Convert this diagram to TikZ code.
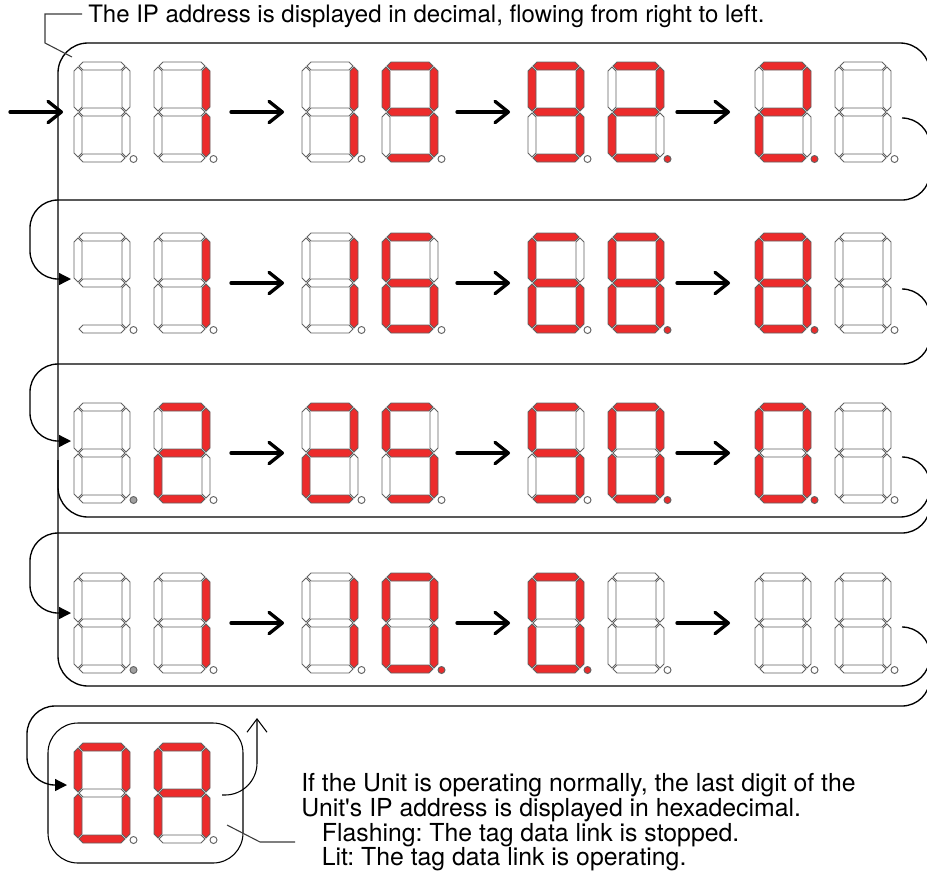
\documentclass[tikz,border=0pt]{standalone}
\usepackage{fontspec}
\setmainfont{TeX Gyre Heros}
\usetikzlibrary{arrows.meta}
\definecolor{segred}{HTML}{EC2B2B}
\definecolor{segline}{HTML}{626262}
\definecolor{dpo}{HTML}{FFFFFF}
\definecolor{dpr}{HTML}{EC2B2B}
\definecolor{dpg}{HTML}{A0A0A0}
\definecolor{callout}{HTML}{3A3A3A}

% seven-segment digit: lit segments, dp state (o/r/g), hidden segments
\makeatletter
\newif\ifsegshown
\newcommand\segstate[1]{%
  \segshowntrue\def\segfill{white}%
  \edef\segtmp{\noexpand\in@{#1}{\hidsegs}}\segtmp\ifin@\segshownfalse\fi
  \edef\segtmp{\noexpand\in@{#1}{\litsegs}}\segtmp\ifin@\def\segfill{segred}\fi}
\makeatother
\newcommand\hseg[2]{\segstate{#1}\ifsegshown
  \filldraw[segment, fill=\segfill] (5,#2) -- (9,#2-4) -- (47,#2-4) -- (51,#2)
    -- (47,#2+4) -- (9,#2+4) -- cycle;\fi}
\newcommand\vseg[3]{\segstate{#1}\ifsegshown
  \filldraw[segment, fill=\segfill] (#2,#3) -- (#2+4,#3+4) -- (#2+4,#3+40)
    -- (#2,#3+44) -- (#2-4,#3+40) -- (#2-4,#3+4) -- cycle;\fi}
\newcommand\sevenseg[5]{%
  \def\litsegs{#3}\def\hidsegs{#5}\edef\dpcol{dp#4}%
  \begin{scope}[shift={(#1,#2)}]
    \hseg{a}{4}\hseg{g}{50}\hseg{d}{96}
    \vseg{f}{4}{5}\vseg{b}{52}{5}\vseg{e}{4}{51}\vseg{c}{52}{51}
    \filldraw[segment, fill=\dpcol] (59.5,97) circle[radius=3.5];
  \end{scope}}

\tikzset{
  segment/.style={draw=segline, line width=0.7pt},
  frame/.style={draw=black, line width=1pt},
  flowline/.style={frame, rounded corners=21pt,
                   -{Triangle[length=9pt,width=9pt]}},
  scroll/.style={line width=2.5pt, line cap=round,
                 -{Straight Barb[length=10pt,width=16pt,round]}},
  loopback/.style={draw=black, line width=0.8pt, rounded corners=24pt,
                   -{Straight Barb[length=10pt,width=15pt]}},
  pointer/.style={draw=callout, line width=0.8pt},
  note/.style={inner sep=0pt, align=left,
               font=\fontsize{18pt}{16.2pt}\selectfont\frenchspacing},
}

\begin{document}
\begin{tikzpicture}[x=0.75pt, y=-0.75pt]
  \useasboundingbox (0,0) rectangle (927,879);
  \clip (0,0) rectangle (927,879);

  % frames of the four rows
  \draw[frame, rounded corners=22.5pt] (58,43) rectangle (930,686);
  \draw[frame, rounded corners=22.5pt] (58,460) -- (58,517) -- (930,517)
    -- (930,460);

  % row 1
  \foreach \dx/\lit/\dps in {74/-/o, 154/bc/o, 302/bc/o, 382/abcdfg/o,
      528/abcdfg/o, 608/abdeg/r, 755/abdeg/r, 835/-/o}
    {\sevenseg{\dx}{62}{\lit}{\dps}{-}}
  % row 2
  \sevenseg{74}{233}{-}{o}{e}
  \foreach \dx/\lit/\dps in {154/bc/o, 302/bc/o, 382/acdefg/o,
      528/acdefg/o, 608/abcdefg/r, 755/abcdefg/r, 835/-/o}
    {\sevenseg{\dx}{233}{\lit}{\dps}{-}}
  % row 3
  \foreach \dx/\lit/\dps in {74/-/g, 154/abdeg/o, 302/abdeg/o, 382/acdfg/o,
      528/acdfg/o, 608/abcdef/r, 755/abcdef/r, 835/-/o}
    {\sevenseg{\dx}{403}{\lit}{\dps}{-}}
  % row 4
  \foreach \dx/\lit/\dps in {74/-/g, 154/bc/o, 302/bc/o, 382/abcdef/r,
      528/abcdef/r, 608/-/o, 755/-/o, 835/-/o}
    {\sevenseg{\dx}{573}{\lit}{\dps}{-}}
  % last octet in hexadecimal
  \sevenseg{74}{743}{abcdef}{o}{-}
  \sevenseg{154}{743}{abcefg}{o}{-}
  \draw[frame, line width=0.8pt, rounded corners=22.5pt] (48,723) rectangle (243,863);

  % scrolling arrows
  \draw[scroll] (10,112) -- (63,112);
  \foreach \ay in {112,283,453,623}
    \foreach \ax in {231,457,677}
      \draw[scroll] (\ax,\ay) -- (\ax+53,\ay);

  % carry-over from one row to the next
  \draw[flowline] (902,118) -- (930,118) -- (930,200) -- (30,200) -- (30,279) -- (71,279);
  \draw[flowline] (902,289) -- (930,289) -- (930,364) -- (30,364) -- (30,441) -- (71,441);
  \draw[flowline] (902,457) -- (930,457) -- (930,533) -- (30,533) -- (30,613) -- (71,613);
  \draw[flowline] (902,627) -- (930,627) -- (930,706) -- (27,706) -- (27,785) -- (67,785);
  \draw[loopback] (222,795) -- (257,795) -- (257,718);

  % texts
  \node[note, anchor=base west] (title) at (88,22.7)
    {The IP address is displayed in decimal, flowing from right to left.};
  \coordinate (titleend) at (82,14);
  \draw[pointer] (72,57) -- (45,43) -- (45,14) -- (titleend);

  \node[note, anchor=north west,
        font=\fontsize{18.6pt}{16.6pt}\selectfont\frenchspacing]
    (hexnote) at (301,773)
    {If the Unit is operating normally, the last digit of the\\
     Unit\textquotesingle s IP address is displayed in hexadecimal.\\
     \hspace*{15.5pt}Flashing: The tag data link is stopped.\\
     \hspace*{15.5pt}Lit: The tag data link is operating.};
  \coordinate (hexend) at (295,842);
  \draw[pointer] (227,825) -- (260,842) -- (hexend);
\end{tikzpicture}
\end{document}
